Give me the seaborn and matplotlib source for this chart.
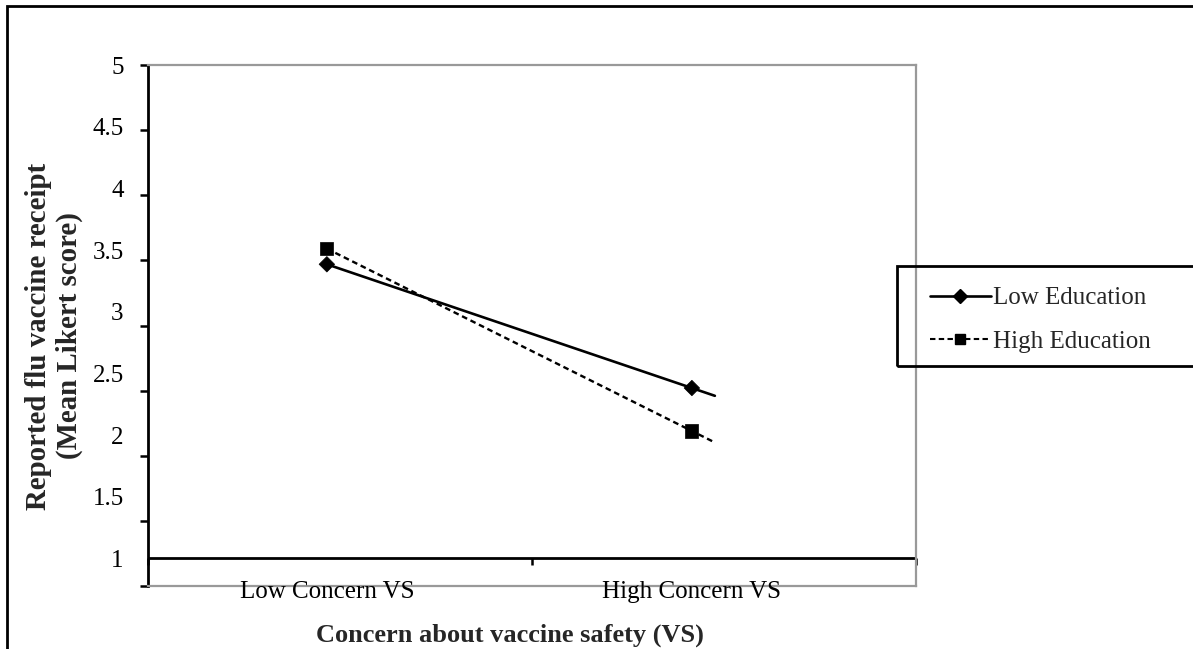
import numpy as np
import pandas as pd
import matplotlib
matplotlib.use("Agg")
import matplotlib.pyplot as plt
import seaborn as sns
from matplotlib.lines import Line2D
from matplotlib.patches import Rectangle
from matplotlib.transforms import blended_transform_factory

# ---------------- data ----------------
categories = ["Low Concern VS", "High Concern VS"]
series_names = ["Low Education", "High Education"]
low_education = [3.47, 2.52]
high_education = [3.59, 2.19]
y_ticks = [1, 1.5, 2, 2.5, 3, 3.5, 4, 4.5, 5]
y_tick_labels = ["1", "1.5", "2", "2.5", "3", "3.5", "4", "4.5", "5"]
x_label = "Concern about vaccine safety (VS)"
y_label = "Reported flu vaccine receipt\n(Mean Likert score)"

# ---------------- style ----------------
sns.set_style("white")
plt.rcParams["font.family"] = ["Liberation Serif", "DejaVu Serif"]

W, H = 1193, 649
fig = plt.figure(figsize=(W / 100, H / 100), dpi=100)


def px_box(l, t, r, b):
    return [l / W, 1 - b / H, (r - l) / W, (b - t) / H]


ax = fig.add_axes(px_box(148, 65, 916, 586))

xpos = list(range(len(categories)))
trend_ext = 0.063          # forward extension of the trend lines
label_scale = 0.9463       # vertical compression of the y tick labels

# markers
pts = pd.DataFrame({
    "x": xpos * 2,
    "y": low_education + high_education,
    "series": [series_names[0]] * 2 + [series_names[1]] * 2,
})
sns.scatterplot(data=pts, x="x", y="y", style="series", size="series",
                markers={series_names[0]: "D", series_names[1]: "s"},
                sizes={series_names[0]: 62, series_names[1]: 90},
                color="black", edgecolor="black", linewidth=0.5,
                legend=False, ax=ax, zorder=4)

# trend lines (extended slightly past the last point)
def trend(vals):
    x0, x1 = xpos[0], xpos[-1]
    y0, y1 = vals[0], vals[-1]
    xe = x1 + trend_ext
    ye = y0 + (y1 - y0) * (xe - x0) / (x1 - x0)
    return pd.DataFrame({"x": [x0, xe], "y": [y0, ye]})

sns.lineplot(data=trend(low_education), x="x", y="y", color="black",
             linewidth=1.9, ax=ax, zorder=3)
sns.lineplot(data=trend(high_education), x="x", y="y", color="black",
             linewidth=1.7, ax=ax, zorder=3)
ax.lines[-1].set_dashes((2.4, 1.6))

ax.set_xlim(-0.49, 1.614)
ax.set_ylim(1, 5)
ax.set_xlabel("")
ax.set_ylabel("")

# spines
for s in ["top", "right", "bottom"]:
    ax.spines[s].set_color("#999999")
    ax.spines[s].set_linewidth(1.6)
ax.spines["left"].set_color("black")
ax.spines["left"].set_linewidth(2.0)

# y ticks (marks on the true scale, labels slightly compressed)
ax.set_yticks(y_ticks)
ax.set_yticklabels([""] * len(y_ticks))
ax.tick_params(axis="y", direction="out", length=6, width=1.8, color="black", left=True)
for v, lab in zip(y_ticks, y_tick_labels):
    yl = 5 - (5 - v) * label_scale
    ax.annotate(lab, xy=(0, yl), xycoords=("axes fraction", "data"),
                xytext=(-17.5, -2), textcoords="offset points",
                ha="right", va="center", fontsize=18, color="black")

# x axis line drawn at label "1" level, with ticks
ax.set_xticks([])
x_axis_y = 5 - (5 - y_ticks[0]) * label_scale
ax.axhline(x_axis_y, color="black", linewidth=2.0, zorder=2)
for xt in [-0.49, 0.5616, 1.614]:
    ax.plot([xt, xt], [x_axis_y, x_axis_y - 0.055], color="black",
            linewidth=1.8, clip_on=False, solid_capstyle="butt")

# category labels
btrans = blended_transform_factory(ax.transData, fig.transFigure)
for xp, cat in zip(xpos, categories):
    ax.text(xp, 1 - 592 / H, cat, transform=btrans, ha="center", va="center",
            fontsize=18, color="black")

# axis titles
fig.text(510 / W, 1 - 635 / H, x_label, ha="center", va="center",
         fontsize=19, fontweight="bold")
fig.text(54 / W, 1 - 336 / H, y_label, ha="center", va="center",
         rotation=90, fontsize=20.8, fontweight="bold", linespacing=1.2,
         multialignment="center")

# legend box + legend
fig.patches.append(Rectangle((897 / W, 1 - 366 / H), (1210 - 897) / W,
                             (366 - 266) / H, transform=fig.transFigure,
                             fill=False, edgecolor="black", linewidth=2.0))
handles = [
    Line2D([], [], color="black", linewidth=1.9, marker="D", markersize=7.5),
    Line2D([], [], color="black", linewidth=1.5, linestyle=(0, (2.6, 1.6)),
           marker="s", markersize=7.5),
]
leg = fig.legend(handles, series_names, loc="center left",
                 bbox_to_anchor=(917 / W, 1 - 320 / H), frameon=False,
                 fontsize=18, handlelength=2.45, handletextpad=0.1,
                 labelspacing=0.85, borderpad=0)

# outer frame
fig.patches.append(Rectangle((7 / W, -0.05), 1.1, 1 - 6 / H + 0.05,
                             transform=fig.transFigure, fill=False,
                             edgecolor="black", linewidth=2.0))

fig.savefig("out.png", dpi=100)
